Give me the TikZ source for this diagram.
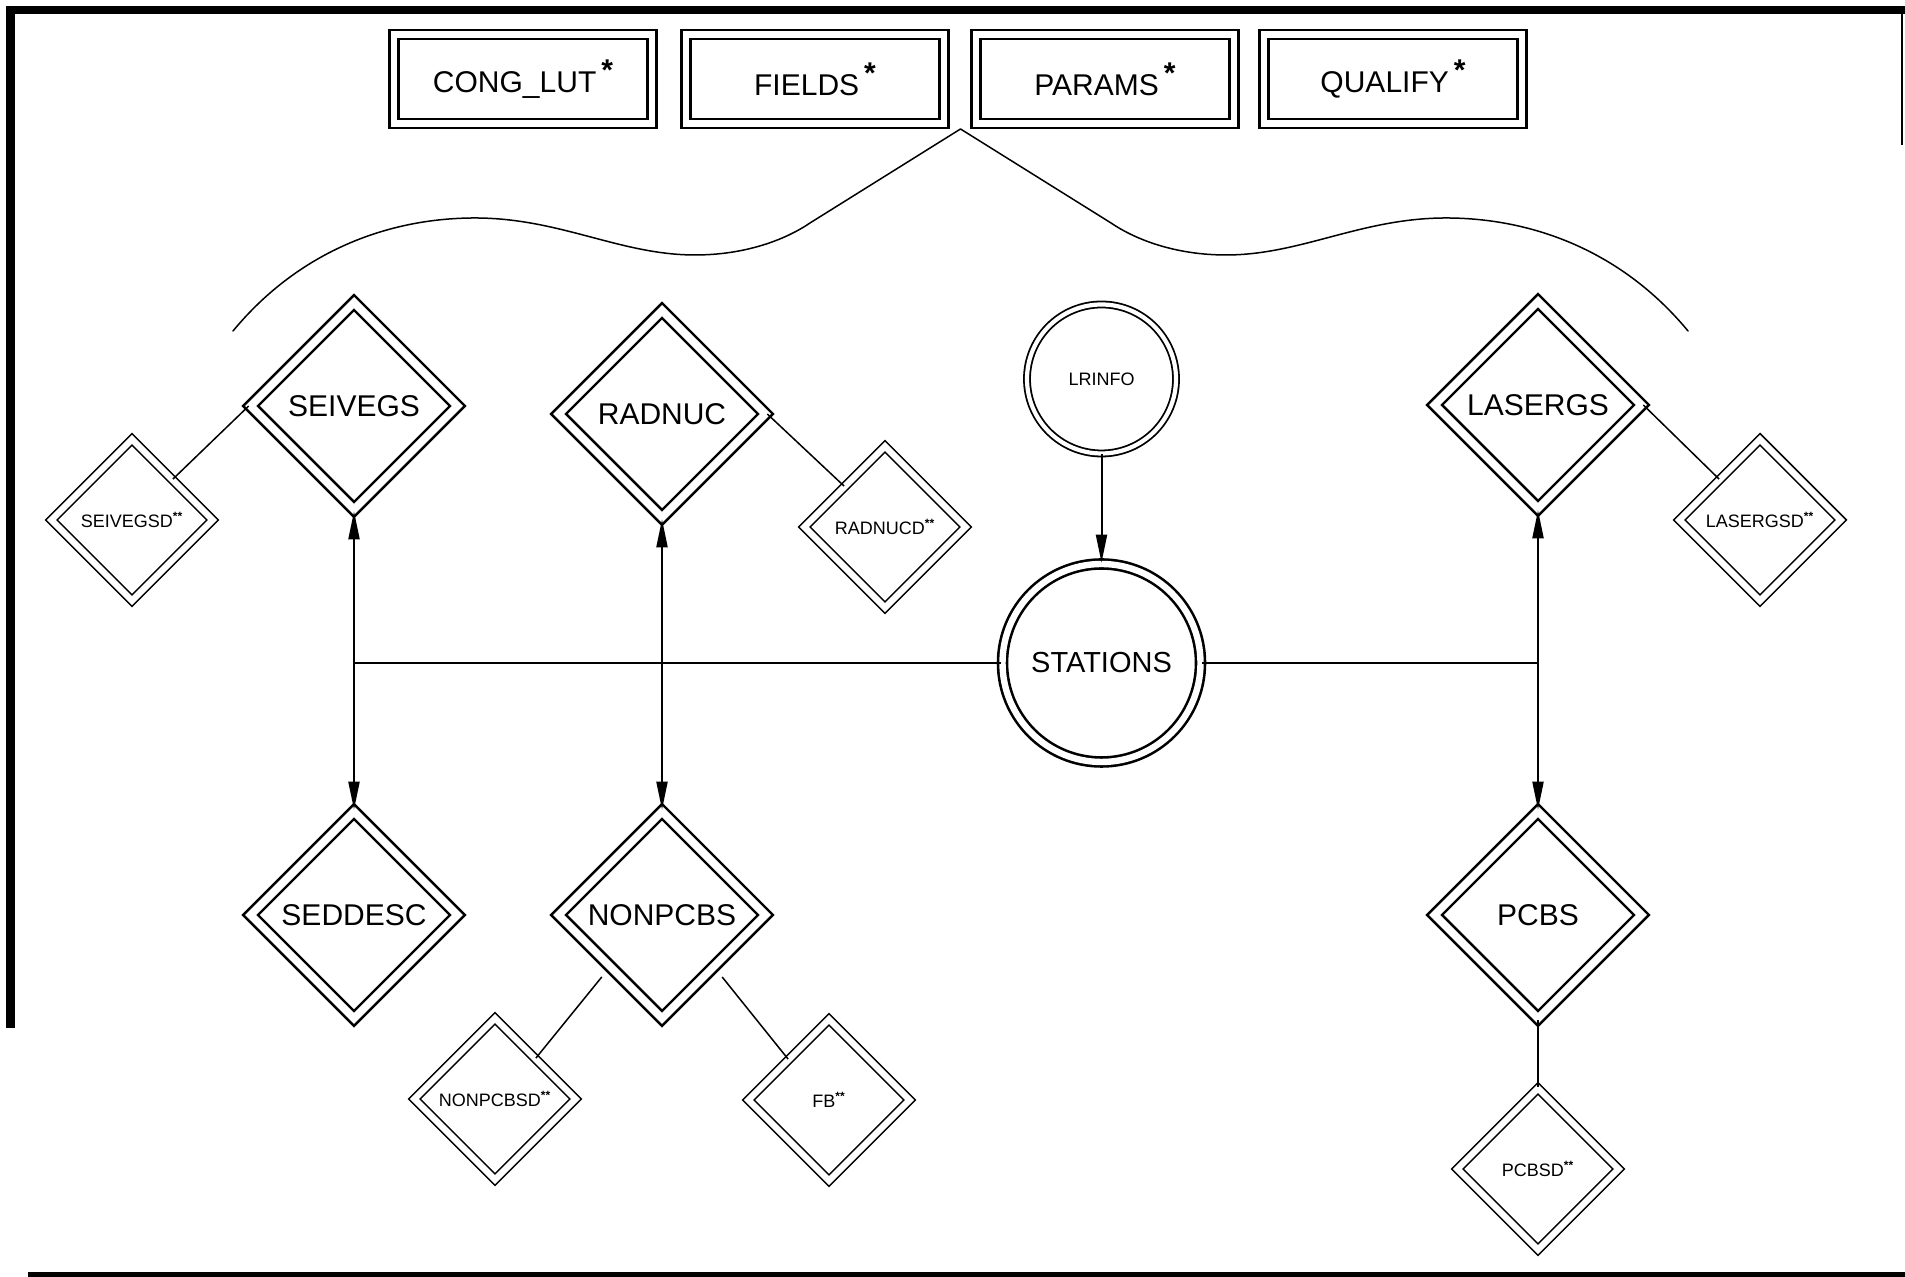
\documentclass[tikz,border=0pt]{standalone}
\usepackage{fontspec}
\setmainfont{Liberation Sans}
\usetikzlibrary{shapes.geometric,arrows.meta}

\begin{document}
\begin{tikzpicture}[x=1pt,y=1pt,
  tblbox/.style={rectangle,draw=drawColor,double,line width=1.2pt,double distance=3.3pt,minimum width=129pt,minimum height=44.5pt,inner sep=0pt,font=\fontsize{15}{18}\selectfont},
  bigdia/.style={diamond,aspect=1,draw=drawColor,double,line width=1.3pt,double distance=3.9pt,minimum width=104pt,minimum height=104pt,inner sep=0pt,font=\fontsize{15}{18}\selectfont},
  smalldia/.style={diamond,aspect=1,draw=drawColor,double,line width=0.8pt,double distance=3.2pt,minimum width=81pt,minimum height=81pt,inner sep=0pt,font=\fontsize{9}{11}\selectfont},
  bigcirc/.style={circle,draw=drawColor,double,line width=1.3pt,double distance=3.2pt,minimum size=99pt,inner sep=0pt,font=\fontsize{14.5}{17}\selectfont},
  smallcirc/.style={circle,draw=drawColor,double,line width=0.9pt,double distance=2.1pt,minimum size=74.5pt,inner sep=0pt,font=\fontsize{9}{11}\selectfont},
  link/.style={draw=drawColor,line width=0.75pt},
  onearrow/.style={draw=drawColor,line width=1.0pt,-{Triangle[length=14pt,width=5.5pt]}},
  twoarrow/.style={draw=drawColor,line width=1.0pt,{Triangle[length=14pt,width=5.5pt]}-{Triangle[length=14pt,width=5.5pt]}}]
\definecolor{fillColor}{RGB}{255,255,255}
\definecolor{drawColor}{RGB}{0,0,0}
\path[use as bounding box,fill=fillColor] (0,0) rectangle (952.50,638.50);

% sheet frame
\begin{scope}
\path[draw=drawColor,line width= 4.25pt,line join=miter] (  5.25,124.50) -- (  5.25,633.50) -- (952.50,633.50);

\path[draw=drawColor,line width= 2.5pt] ( 14.00,  1.25) -- (952.50,  1.25);

\path[draw=drawColor,line width= 1.0pt] (951.00,633.50) -- (951.00,566.00);
\end{scope}

% tables
\node[tblbox] (congLut) at (261.50,599.00) {CONG\_LUT\,\raisebox{.4em}{\textbf{*}}};

\node[tblbox] (fields) at (407.50,599.00) {FIELDS\,\raisebox{.4em}{\textbf{*}}};

\node[tblbox] (params) at (552.50,599.00) {PARAMS\,\raisebox{.4em}{\textbf{*}}};

\node[tblbox] (qualify) at (696.50,599.00) {QUALIFY\,\raisebox{.4em}{\textbf{*}}};

% brace under the tables
\path[draw=drawColor,line width= 0.75pt,line join=round,line cap=round] (116.50,473.00) .. controls (150.00,513.50) and (195.00,529.50) .. (237.50,529.50) .. controls (280.00,529.50) and (310.00,511.00) .. (347.50,511.00) .. controls (372.50,511.00) and (392.50,518.50) .. (405.00,527.00) -- (480.25,574.00) -- (555.50,527.00) .. controls (568.00,518.50) and (588.00,511.00) .. (613.00,511.00) .. controls (650.50,511.00) and (680.50,529.50) .. (723.00,529.50) .. controls (765.50,529.50) and (810.50,513.50) .. (844.00,473.00);

% entities
\node[bigdia] (seivegs) at (177.00,435.50) {SEIVEGS};

\node[bigdia] (radnuc) at (331.00,431.50) {RADNUC};

\node[bigdia] (lasergs) at (769.00,436.00) {LASERGS};

\node[bigdia] (seddesc) at (177.00,181.00) {SEDDESC};

\node[bigdia] (nonpcbs) at (331.00,181.00) {NONPCBS};

\node[bigdia] (pcbs) at (769.00,181.00) {PCBS};

\node[smalldia] (seivegsd) at ( 66.00,378.50) {SEIVEGSD\textsuperscript{\textbf{**}}};

\node[smalldia] (radnucd) at (442.50,375.00) {RADNUCD\textsuperscript{\textbf{**}}};

\node[smalldia] (lasergsd) at (880.00,378.50) {LASERGSD\textsuperscript{\textbf{**}}};

\node[smalldia] (nonpcbsd) at (247.50, 89.00) {NONPCBSD\textsuperscript{\textbf{**}}};

\node[smalldia] (fb) at (414.50, 88.50) {FB\textsuperscript{\textbf{**}}};

\node[smalldia] (pcbsd) at (769.00, 54.00) {PCBSD\textsuperscript{\textbf{**}}};

\node[smallcirc] (lrinfo) at (550.75,449.00) {LRINFO};

\node[bigcirc] (stations) at (550.75,307.00) {STATIONS};

% relations
\path[onearrow] (lrinfo) -- (stations);

\path[twoarrow] (seivegs.south) -- (seddesc.north);

\path[twoarrow] (radnuc.south) -- (nonpcbs.north);

\path[twoarrow] (lasergs.south) -- (pcbs.north);

\path[link] (stations.west) -- (stations.west -| seivegs.south);

\path[link] (stations.east) -- (stations.east -| lasergs.south);

\path[link] (seivegs.west) -- (seivegsd.north east);

\path[link] (radnuc.east) -- (radnucd.north west);

\path[link] (lasergs.east) -- (lasergsd.north west);

\path[link,shorten <=6pt] (nonpcbs.south west) -- (nonpcbsd.north east);

\path[link,shorten <=6pt] (nonpcbs.south east) -- (fb.north west);

\path[link] (pcbs.south) -- (pcbsd.north);
\end{tikzpicture}
\end{document}
